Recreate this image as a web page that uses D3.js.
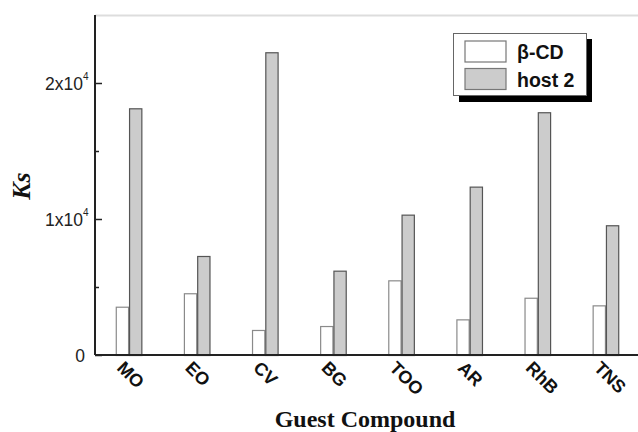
<!DOCTYPE html>
<html>
<head>
<meta charset="utf-8">
<script src="https://cdn.jsdelivr.net/npm/d3@7"></script>
<style>
  body { margin: 0; background: #fff; }
  svg { display: block; }
</style>
</head>
<body>
<div id="container"></div>
<script>
// guest compounds along the x axis
var categories = ["MO", "EO", "CV", "BG", "TOO", "AR", "RhB", "TNS"];
var seriesNames = ["β-CD", "host 2"];
// Ks values
var betaCD = [3550, 4540, 1840, 2130, 5490, 2620, 4210, 3650];
var host2 = [18140, 7280, 22260, 6200, 10320, 12380, 17850, 9540];
var majorTicks = [0, 10000, 20000];
var minorTicks = [5000, 15000];
var tickLabels = ["0", "1x10", "2x10"];

var width = 638, height = 432;
var margin = {top: 15, right: 0, bottom: 77, left: 95};
var w = width - margin.left - margin.right;
var h = height - margin.top - margin.bottom;

var svg = d3.select("#container")
    .append("svg")
    .attr("width", width)
    .attr("height", height);

var g = svg.append("g")
    .attr("transform", "translate(" + margin.left + "," + margin.top + ")");

var x = d3.scaleBand()
    .domain(categories)
    .range([0, w + 2])
    .paddingInner(0.61)
    .paddingOuter(0.305);

var xs = d3.scaleBand()
    .domain(seriesNames)
    .range([0, x.bandwidth()]);

var y = d3.scaleLinear()
    .domain([0, 25000])
    .range([h, 0]);

var fills = {"β-CD": "#ffffff", "host 2": "#cccccc"};
var strokes = {"β-CD": "#8a8a8a", "host 2": "#555555"};

// top frame line (light)
g.append("line")
    .attr("x1", 0).attr("x2", w)
    .attr("y1", 0.5).attr("y2", 0.5)
    .attr("stroke", "#dddddd")
    .attr("stroke-width", 2);

// bars
var rows = categories.map(function(c, i) {
    return {cat: c, vals: [{s: "β-CD", v: betaCD[i]}, {s: "host 2", v: host2[i]}]};
});

var groups = g.selectAll(".grp")
    .data(rows)
    .enter().append("g")
    .attr("class", "grp")
    .attr("transform", function(d) { return "translate(" + x(d.cat) + ",0)"; });

groups.selectAll("rect")
    .data(function(d) { return d.vals; })
    .enter().append("rect")
    .attr("x", function(d) { return xs(d.s) + 0.5; })
    .attr("y", function(d) { return y(d.v) + 0.5; })
    .attr("width", xs.bandwidth() - 1)
    .attr("height", function(d) { return h - y(d.v); })
    .attr("fill", function(d) { return fills[d.s]; })
    .attr("stroke", function(d) { return strokes[d.s]; })
    .attr("stroke-width", 1.2);

// y axis: ticks point inward
var yAxis = d3.axisRight(y)
    .tickValues(majorTicks)
    .tickSize(7)
    .tickFormat("");
var ya = g.append("g").call(yAxis);
ya.select(".domain").remove();
ya.selectAll(".tick line").attr("stroke", "#222").attr("stroke-width", 1.5);

var yMinor = d3.axisRight(y)
    .tickValues(minorTicks)
    .tickSize(4)
    .tickFormat("");
var ym = g.append("g").call(yMinor);
ym.select(".domain").remove();
ym.selectAll(".tick line").attr("stroke", "#222").attr("stroke-width", 1.5);

g.append("line")
    .attr("x1", 0).attr("x2", 0)
    .attr("y1", 0).attr("y2", h)
    .attr("stroke", "#222")
    .attr("stroke-width", 2);

// y tick labels with superscripts
g.selectAll(".ylab")
    .data(majorTicks)
    .enter().append("text")
    .attr("class", "ylab")
    .attr("x", function(d) { return d === 0 ? -10 : -12; })
    .attr("y", function(d) { return y(d) + 6.5; })
    .attr("text-anchor", "end")
    .style("font-family", "'Liberation Sans', Arial, sans-serif")
    .style("font-size", "17.5px")
    .style("fill", "#222")
    .text(function(d, i) { return tickLabels[i]; });

g.selectAll(".ysup")
    .data(majorTicks.filter(function(d) { return d > 0; }))
    .enter().append("text")
    .attr("class", "ysup")
    .attr("x", -12)
    .attr("y", function(d) { return y(d) - 3; })
    .style("font-family", "'Liberation Sans', Arial, sans-serif")
    .style("font-size", "10px")
    .style("fill", "#222")
    .text("4");

// x axis
var xAxis = d3.axisBottom(x).tickSize(0).tickFormat("");
var xa = g.append("g")
    .attr("transform", "translate(0," + h + ")")
    .call(xAxis);
xa.select(".domain").remove();

g.append("line")
    .attr("x1", 0).attr("x2", w)
    .attr("y1", h).attr("y2", h)
    .attr("stroke", "#222")
    .attr("stroke-width", 2);

g.selectAll(".xlab")
    .data(categories)
    .enter().append("text")
    .attr("class", "xlab")
    .attr("transform", function(d) {
        return "translate(" + (x(d) + x.bandwidth() / 2 - 13) + "," + (h + 14) + ") rotate(45)";
    })
    .style("font-family", "'Liberation Sans', Arial, sans-serif")
    .style("font-size", "18px")
    .style("font-weight", "bold")
    .style("fill", "#111")
    .text(function(d) { return d; });

// axis titles
svg.append("text")
    .attr("transform", "translate(30,186) rotate(-90)")
    .attr("text-anchor", "middle")
    .style("font-family", "'Liberation Serif', 'Times New Roman', serif")
    .style("font-size", "26px")
    .style("font-weight", "bold")
    .style("font-style", "italic")
    .style("fill", "#111")
    .text("Ks");

svg.append("text")
    .attr("x", 365)
    .attr("y", 427)
    .attr("text-anchor", "middle")
    .style("font-family", "'Liberation Serif', 'Times New Roman', serif")
    .style("font-size", "24px")
    .style("font-weight", "bold")
    .style("fill", "#111")
    .text("Guest Compound");

// legend with drop shadow
var lg = svg.append("g").attr("transform", "translate(453,33)");
lg.append("rect")
    .attr("x", 6).attr("y", 6)
    .attr("width", 133).attr("height", 63)
    .attr("fill", "#000");
lg.append("rect")
    .attr("x", 0.5).attr("y", 0.5)
    .attr("width", 133).attr("height", 62)
    .attr("fill", "#fff")
    .attr("stroke", "#666")
    .attr("stroke-width", 1);

var li = lg.selectAll(".li")
    .data(seriesNames)
    .enter().append("g")
    .attr("class", "li")
    .attr("transform", function(d, i) { return "translate(12," + (8 + i * 27.5) + ")"; });
li.append("rect")
    .attr("width", 41).attr("height", 21)
    .attr("fill", function(d) { return fills[d]; })
    .attr("stroke", "#777")
    .attr("stroke-width", 1.2);
li.append("text")
    .attr("x", 52)
    .attr("y", 18)
    .style("font-family", "'Liberation Sans', Arial, sans-serif")
    .style("font-size", "19.5px")
    .style("font-weight", "bold")
    .style("fill", "#111")
    .text(function(d) { return d; });
</script>
</body>
</html>
